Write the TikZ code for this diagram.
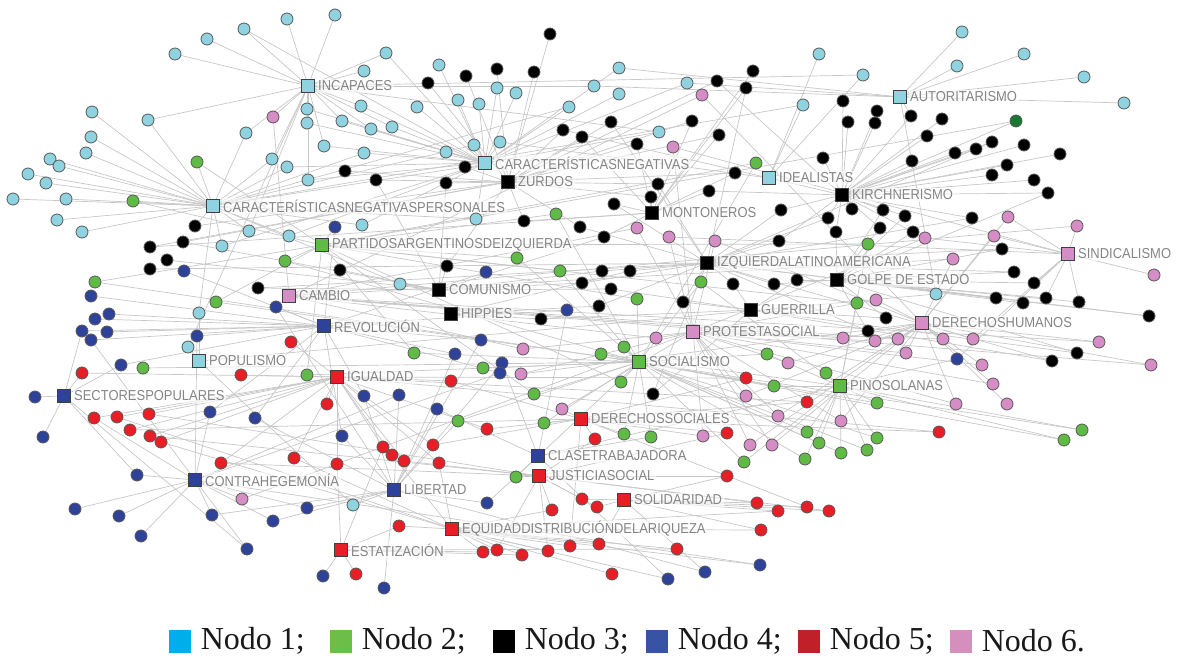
\documentclass[tikz,border=0pt]{standalone}
\usepackage{fontspec}
\newfontfamily\labfont[FakeStretch=0.9]{Liberation Sans}
\newfontfamily\legfont{Liberation Serif}
\usetikzlibrary{positioning,backgrounds}
\definecolor{nA}{RGB}{143,211,224}\definecolor{nG}{RGB}{95,187,70}
\definecolor{nK}{RGB}{0,0,0}\definecolor{nB}{RGB}{45,66,152}
\definecolor{nR}{RGB}{232,30,38}\definecolor{nP}{RGB}{214,140,197}
\definecolor{nD}{RGB}{25,120,50}
\definecolor{l1}{RGB}{0,174,236}\definecolor{l2}{RGB}{108,190,75}
\definecolor{l3}{RGB}{0,0,0}\definecolor{l4}{RGB}{57,83,164}
\definecolor{l5}{RGB}{192,32,40}\definecolor{l6}{RGB}{212,143,190}
\begin{document}
\begin{tikzpicture}[x=0.5pt,y=-0.5pt,
 hub/.style={rectangle,draw=black!75,line width=0.5pt,minimum size=6.5pt,inner sep=0pt},
 dot/.style={circle,draw=black!65,line width=0.4pt,minimum size=6pt,inner sep=0pt},
 edge/.style={draw=black!22,line width=0.35pt},
 lab/.style={font={\labfont\fontsize{7.2}{8}\selectfont},text=black!48,inner sep=0.8pt,fill=white,fill opacity=0.55,text opacity=1},
 key/.style={rectangle,minimum width=11pt,minimum height=11.5pt,inner sep=0pt},
 legtext/.style={font={\legfont\fontsize{16}{18}\selectfont},text=black!90,inner sep=0pt}]
\useasboundingbox (0,0) rectangle (1182,662);
% hubs
\foreach \n/\px/\py/\c/\s in {inc/308/86/A/INCAPACES, cn/485/163/A/CARACTERÍSTICASNEGATIVAS, zur/508/182/K/ZURDOS,
 aut/900/97/A/AUTORITARISMO, ide/769/178/A/IDEALISTAS, kir/842/195/K/KIRCHNERISMO,
 cnp/213/206/A/CARACTERÍSTICASNEGATIVASPERSONALES, mon/652/213/K/MONTONEROS,
 par/322/245/G/PARTIDOSARGENTINOSDEIZQUIERDA, izq/707/263/K/IZQUIERDALATINOAMERICANA,
 sin/1068/254/P/SINDICALISMO, gol/837/280/K/GOLPE DE ESTADO, com/439/290/K/COMUNISMO,
 cam/289/296/P/CAMBIO, gue/751/310/K/GUERRILLA, hip/451/314/K/HIPPIES, dh/922/323/P/DERECHOSHUMANOS,
 rev/324/326/B/REVOLUCIÓN, pro/693/332/P/PROTESTASOCIAL, pop/199/361/A/POPULISMO,
 soc/639/362/G/SOCIALISMO, igu/337/377/R/IGUALDAD, pin/840/386/G/PINOSOLANAS,
 sec/64/396/B/SECTORESPOPULARES, ds/581/419/R/DERECHOSSOCIALES, cla/538/456/B/CLASETRABAJADORA,
 jus/539/476/R/JUSTICIASOCIAL, con/195/480/B/CONTRAHEGEMONÍA, lib/394/490/B/LIBERTAD,
 sol/624/500/R/SOLIDARIDAD, equ/452/529/R/EQUIDADDISTRIBUCIÓNDELARIQUEZA, est/341/550/R/ESTATIZACIÓN}
 {\node[hub,fill=n\c] (\n) at (\px,\py) {}; \node[lab,right=0.6pt of \n] (l\n) {\s};}
% dots: x/y/colour/linked hubs
\def\dotlist{
 287/19/A/inc, 335/15/A/inc, 244/29/A/{inc,cn}, 207/39/A/inc, 175/54/A/inc,
 92/112/A/cnp, 148/120/A/{inc,cnp}, 273/117/P/{inc,cam}, 246/133/A/{inc,cnp}, 91/137/A/cnp,
 86/153/A/cnp, 50/159/A/cnp, 59/166/A/cnp, 28/174/A/cnp, 46/183/A/cnp,
 197/162/G/{cnp,par}, 272/159/A/{cnp,inc}, 287/167/A/{cnp,cn}, 13/199/A/cnp, 66/199/A/cnp,
 133/201/G/{cnp,par}, 57/220/A/cnp, 82/232/A/cnp, 195/226/K/{cnp,zur}, 183/242/K/{com,zur},
 150/247/K/{zur,mon}, 167/260/K/com, 150/269/K/izq, 184/271/B/rev, 222/246/A/{cnp,cn},
 249/231/A/{cnp,inc}, 289/236/A/{cnp,cn}, 285/261/G/{par,soc}, 95/282/G/{par,soc}, 91/296/B/rev,
 258/288/K/{com,izq}, 216/302/G/{par,soc}, 276/307/B/{rev,lib}, 95/319/B/rev, 109/314/B/rev,
 82/331/B/{rev,sec}, 107/332/B/rev, 91/340/B/{rev,con}, 199/313/A/{pop,cnp}, 197/336/B/{rev,con},
 291/342/R/igu, 188/347/A/{pop,inc}, 121/365/B/{rev,sec}, 143/368/G/soc, 82/373/R/{igu,sec},
 241/375/R/igu, 35/397/B/sec,
 386/53/A/{inc,cn}, 364/71/A/inc, 550/34/K/zur, 439/65/A/cn, 466/76/K/zur, 497/69/K/zur,
 534/72/K/zur, 428/83/K/zur, 497/88/A/cn, 516/93/A/cn, 594/86/A/{inc,aut}, 307/109/A/{inc,cn},
 307/123/A/{inc,cn}, 361/106/A/{inc,cn}, 417/107/A/cn, 458/100/A/cn, 479/104/A/cn, 342/121/A/{inc,cn},
 371/129/A/{inc,cn}, 392/127/A/{inc,cn}, 569/107/A/{cn,cnp}, 563/130/K/{kir,zur}, 582/137/K/{mon,zur},
 324/146/A/{inc,cn}, 364/153/A/{cn,cnp}, 446/152/A/cn, 474/145/A/{cn,cnp}, 500/142/A/{cn,ide},
 465/167/K/{zur,cnp}, 345/171/K/zur, 376/180/K/{zur,com}, 446/183/K/{zur,com}, 308/180/A/{inc,cn},
 619/68/A/{cn,aut}, 619/94/A/cn, 687/83/A/{cn,aut}, 717/81/K/{zur,kir}, 702/95/P/{dh,cam},
 753/71/K/mon, 746/88/K/{mon,izq}, 819/54/A/ide, 863/75/A/{ide,inc}, 803/105/A/{ide,cnp},
 843/101/K/kir, 877/111/K/kir, 848/122/K/kir, 875/123/K/kir, 611/122/K/{zur,izq},
 692/121/K/{mon,zur}, 659/132/A/{cn,inc}, 719/135/K/{mon,zur}, 637/144/K/{mon,zur}, 673/147/P/{pro,sin},
 756/163/G/{soc,par}, 823/158/K/kir, 735/173/K/{mon,zur}, 658/184/K/{zur,izq}, 709/191/K/{mon,kir},
 651/197/K/{mon,zur},
 962/32/A/aut, 957/66/A/aut, 1024/54/A/aut, 1084/77/A/aut, 1124/103/A/aut,
 911/116/K/{aut,kir}, 942/119/K/kir, 1016/121/D/{kir,par}, 927/136/K/kir, 912/161/K/kir,
 955/153/K/kir, 976/149/K/kir, 992/142/K/{kir,izq}, 1024/145/K/kir, 1007/165/K/kir,
 1060/154/K/kir, 992/175/K/kir, 1034/180/K/kir, 1048/193/K/{kir,gol},
 335/227/B/{par,rev}, 362/225/A/{cnp,cn}, 476/219/A/{cnp,cn}, 524/221/K/{zur,mon}, 556/214/G/{par,soc},
 580/227/K/{izq,zur}, 340/270/K/com, 447/266/K/{com,zur}, 517/258/G/{par,soc}, 486/272/B/rev,
 560/271/G/{par,soc}, 582/283/K/{izq,com}, 400/284/A/{com,cnp}, 567/310/B/{rev,cla}, 541/319/K/{gue,hip},
 481/340/B/{rev,lib}, 414/353/G/{soc,par}, 455/354/B/{lib,rev}, 523/349/P/{pro,cam}, 502/363/B/{lib,cla},
 500/373/B/{rev,con}, 483/368/G/soc, 521/374/P/{pro,dh}, 307/375/G/{soc,par}, 451/381/R/{igu,ds},
 364/396/B/{lib,rev}, 399/395/B/{con,lib}, 534/394/G/{soc,par},
 614/204/K/{mon,izq}, 781/210/K/{izq,kir}, 828/218/K/{kir,izq}, 852/209/K/kir, 883/210/K/{kir,gol},
 637/228/P/{pro,cam}, 604/237/K/{mon,com}, 669/237/P/{pro,sin}, 715/241/P/{pro,dh}, 779/241/K/{izq,kir},
 836/232/K/{kir,gol}, 880/228/K/{kir,gol}, 868/244/G/{pin,par}, 602/271/K/{izq,com}, 630/271/K/{izq,hip},
 611/289/K/{gue,com}, 701/282/G/{soc,pin}, 733/284/K/{izq,gue}, 774/284/K/{gol,izq}, 797/280/K/{gol,gue},
 599/306/K/{hip,izq}, 637/299/G/{soc,par}, 683/302/K/{izq,gue}, 857/303/G/{pin,par}, 876/300/P/{dh,pro},
 886/318/K/{gol,gue}, 868/331/K/{gol,izq}, 875/341/P/{dh,pro}, 843/338/P/{dh,cam}, 656/338/P/{pro,cam},
 624/347/G/soc, 601/354/G/{soc,pin}, 767/354/G/{pin,soc}, 788/363/P/{pro,dh}, 621/382/G/{soc,par},
 746/378/R/{ds,igu}, 774/386/G/{pin,soc}, 826/373/G/pin, 653/394/K/{gue,izq}, 746/396/P/{pro,dh},
 905/216/K/{kir,gol}, 972/218/K/{kir,izq}, 1008/217/P/{sin,dh}, 1077/226/P/{sin,cam}, 913/232/K/{kir,gol},
 925/238/P/{sin,pro}, 994/236/P/{sin,dh}, 1002/249/K/{gol,izq}, 953/259/P/{dh,cam}, 1014/272/K/{gol,izq},
 1034/283/K/{gol,sin}, 1154/275/P/sin, 936/294/A/{pop,aut}, 996/298/K/{gol,izq}, 1023/303/K/gol,
 1046/298/K/{gol,sin}, 1079/302/K/{gol,sin}, 1149/316/K/{gol,izq}, 898/339/P/{dh,cam}, 943/339/P/{dh,pro},
 973/339/P/{dh,sin}, 1099/342/P/{dh,cam}, 906/353/P/{dh,pro}, 957/359/B/{cla,sin}, 982/365/P/{dh,pro},
 1077/353/K/{gue,gol}, 1052/361/K/{gue,izq}, 1151/365/P/{dh,cam}, 993/384/P/{dh,pro},
 956/404/P/{dh,pro}, 1007/404/P/dh, 939/432/R/{ds,igu}, 1082/430/G/{pin,soc}, 1064/440/G/{pin,soc},
 94/418/R/{igu,con}, 117/417/R/{igu,equ}, 149/414/R/{igu,jus}, 130/430/R/{igu,ds}, 150/436/R/{igu,jus},
 161/442/R/{igu,equ}, 43/437/B/sec, 210/412/B/{con,rev}, 255/418/B/{lib,rev}, 221/463/R/{igu,jus},
 294/458/R/{igu,equ}, 137/475/B/{con,sec}, 75/509/B/con, 119/516/B/con, 141/536/B/con,
 212/515/B/{con,lib}, 242/499/P/{con,pro}, 273/521/B/{con,lib}, 247/549/B/{con,sec},
 327/404/R/igu, 437/409/B/{lib,cla}, 458/421/G/{soc,lib}, 487/429/R/{ds,igu}, 562/409/P/{pro,ds},
 544/423/G/{soc,ds}, 342/436/B/{lib,rev}, 383/447/R/{igu,est}, 392/455/R/{igu,equ}, 404/461/R/{igu,jus},
 433/445/R/{igu,ds}, 439/463/R/{igu,equ}, 337/464/R/{igu,est}, 516/477/G/{soc,jus}, 487/503/B/{lib,cla},
 307/508/B/{con,lib}, 353/505/A/{pop,lib}, 399/526/R/{equ,est}, 582/499/R/{sol,jus}, 552/510/R/{jus,equ},
 323/576/B/est, 356/574/R/est, 384/588/B/lib, 483/552/R/{est,equ}, 497/550/R/{equ,jus},
 522/555/R/{equ,est}, 548/551/R/{equ,jus}, 570/546/R/{equ,ds},
 807/402/R/{ds,igu}, 877/403/G/{pin,soc}, 778/416/P/{pro,dh}, 841/421/P/{pro,dh}, 595/439/R/{ds,jus},
 624/434/G/{soc,ds}, 651/437/G/{soc,cla}, 703/436/P/{pro,ds}, 727/433/R/{ds,jus}, 807/432/G/{pin,soc},
 819/443/G/{pin,soc}, 877/438/G/{pin,soc}, 750/445/P/{pro,dh}, 772/445/P/{pro,dh}, 744/462/G/{soc,pin},
 805/459/G/{pin,soc}, 841/453/G/{pin,soc}, 867/450/G/{pin,soc}, 727/476/R/{jus,sol}, 597/507/R/{sol,jus},
 757/503/R/{sol,jus}, 778/511/R/{sol,equ}, 807/507/R/{sol,ds}, 829/511/R/{sol,jus}, 761/530/R/{sol,equ},
 599/544/R/{equ,sol}, 677/549/R/{equ,est}, 612/574/R/equ, 668/579/B/{equ,cla}, 705/572/B/{lib,sol},
 760/565/B/{equ,con}}
\foreach \px/\py/\c/\t [count=\i] in \dotlist {\node[dot,fill=n\c] (d\i) at (\px,\py) {};}
% links
\begin{pgfonlayer}{background}
\foreach \px/\py/\c/\t [count=\i] in \dotlist {\foreach \h in \t {\draw[edge] (d\i) -- (\h);}}
\end{pgfonlayer}
% legend
\foreach \k/\px/\s in {1/180/{Nodo 1;}, 2/341/{Nodo 2;}, 3/504/{Nodo 3;}, 4/657/{Nodo 4;}, 5/809/{Nodo 5;}, 6/961/{Nodo 6.}}
 {\node[key,fill=l\k] (k\k) at (\px,641) {}; \node[legtext,right=4.5pt of k\k] (t\k) {\s};}
\end{tikzpicture}
\end{document}
